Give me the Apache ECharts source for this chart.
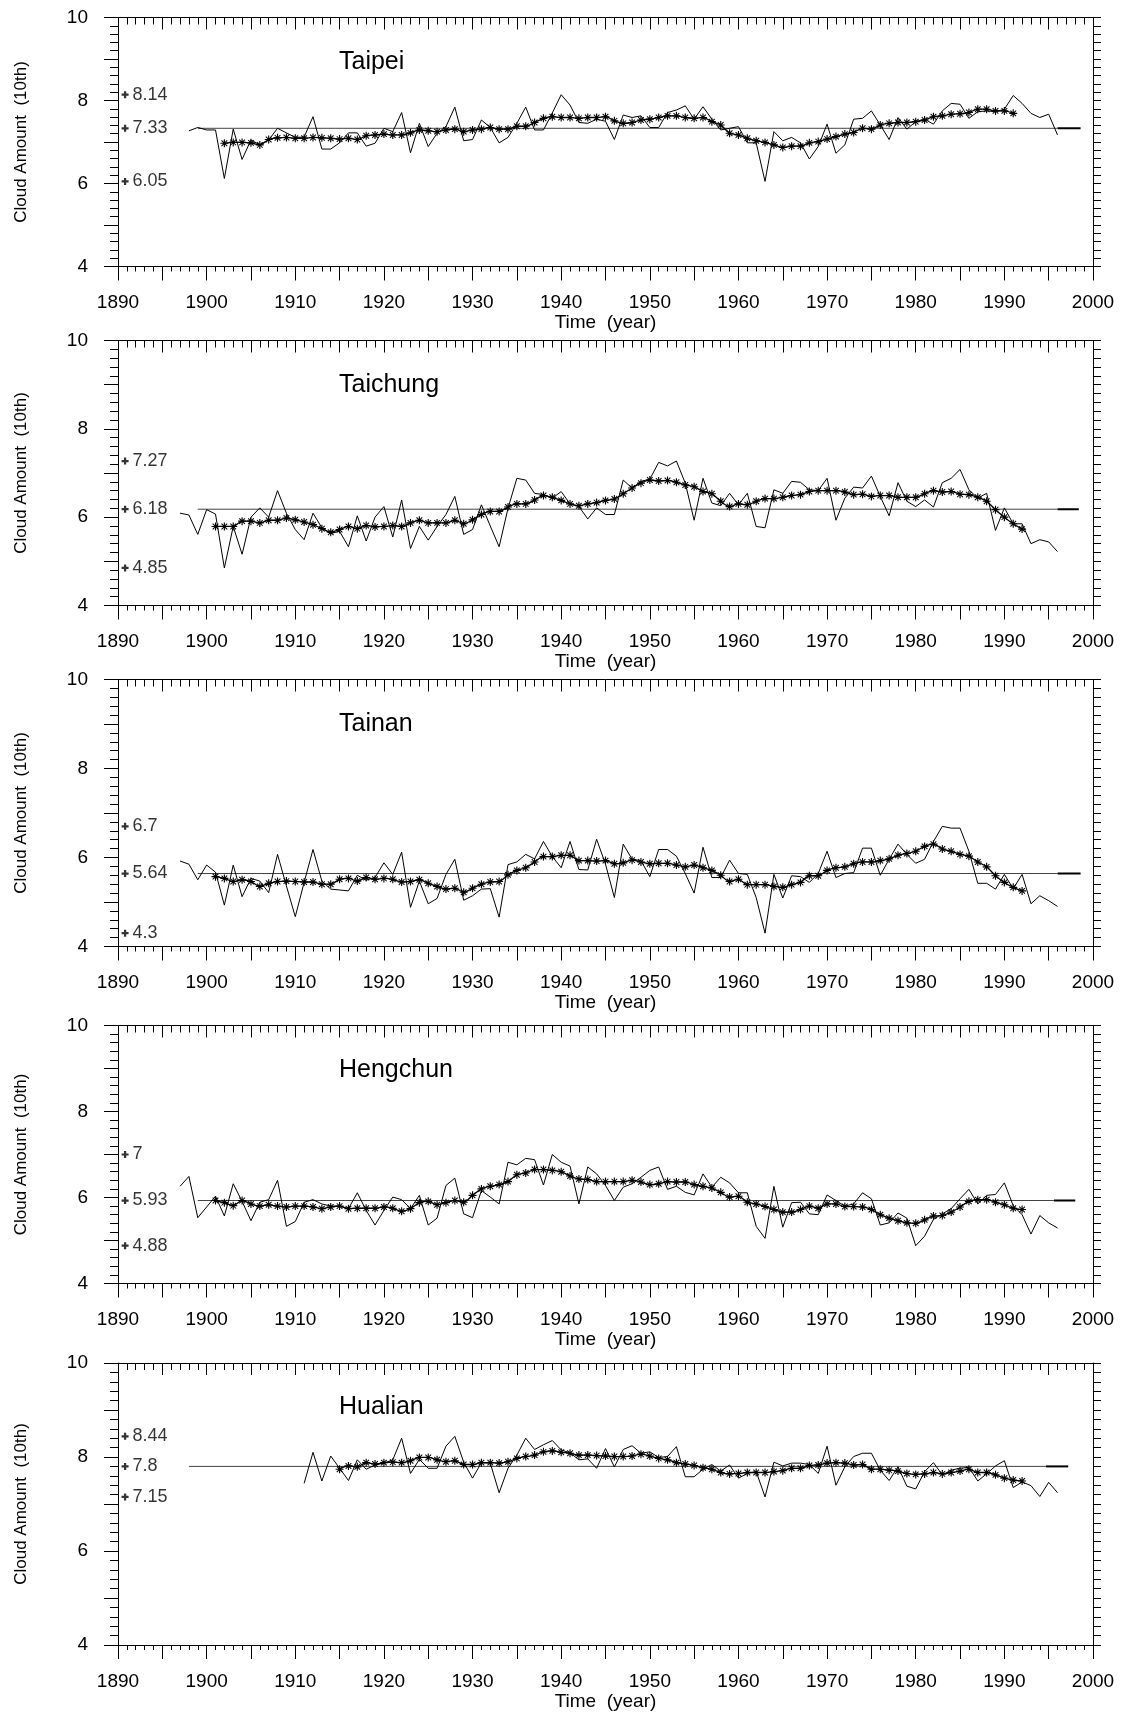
<!DOCTYPE html>
<html><head><meta charset="utf-8">
<script src="https://cdn.jsdelivr.net/npm/echarts/dist/echarts.min.js"></script>
<style>html,body{margin:0;padding:0;background:#fff}#c{width:1123px;height:1722px}</style>
</head><body><div id="c"></div>
<script>
const stations = ['Taipei', 'Taichung', 'Tainan', 'Hengchun', 'Hualian'];
const xTickLabels = [1890, 1900, 1910, 1920, 1930, 1940, 1950, 1960, 1970, 1980, 1990, 2000];
const yTickLabels = [4, 6, 8, 10];

// ---- Taipei ----
const taipeiRawStart = 1898;
const taipeiRaw = [7.27,7.35,7.29,7.29,6.12,7.31,6.58,7.05,6.93,7.05,7.33,7.22,7.11,7.12,7.61,6.83,6.83,6.98,7.22,7.22,6.90,6.97,7.33,7.25,7.71,6.74,7.45,6.89,7.21,7.37,7.84,7.03,7.06,7.53,7.35,6.98,7.11,7.45,7.84,7.29,7.29,7.70,8.14,7.89,7.47,7.45,7.55,7.50,7.06,7.65,7.59,7.63,7.35,7.35,7.71,7.77,7.87,7.55,7.85,7.55,7.29,7.33,7.37,6.98,6.98,6.05,7.25,7.03,7.11,6.98,6.59,6.89,7.43,6.73,6.93,7.55,7.57,7.75,7.41,7.06,7.59,7.31,7.49,7.55,7.43,7.75,7.93,7.91,7.57,7.73,7.75,7.73,7.79,8.12,7.93,7.69,7.59,7.67,7.17];
const taipeiSmoothStart = 1902;
const taipeiSmooth = [6.97,6.99,6.99,6.98,6.93,7.06,7.10,7.11,7.09,7.09,7.11,7.10,7.09,7.07,7.09,7.06,7.15,7.17,7.19,7.17,7.17,7.22,7.29,7.27,7.25,7.29,7.31,7.25,7.29,7.31,7.35,7.31,7.31,7.38,7.38,7.47,7.57,7.61,7.59,7.59,7.57,7.59,7.59,7.61,7.51,7.45,7.47,7.53,7.55,7.59,7.63,7.63,7.59,7.57,7.59,7.49,7.41,7.21,7.17,7.09,7.03,6.99,6.93,6.87,6.90,6.90,6.98,7.01,7.07,7.13,7.19,7.23,7.33,7.31,7.41,7.45,7.47,7.47,7.49,7.53,7.61,7.63,7.67,7.68,7.71,7.79,7.79,7.75,7.75,7.69];
const taipeiStats = [8.14, 7.33, 6.05];

// ---- Taichung ----
const taichungRawStart = 1897;
const taichungRaw = [6.09,6.05,5.61,6.17,6.07,4.85,5.79,5.16,6.00,6.21,6.00,6.60,6.09,5.72,5.49,6.09,5.76,5.63,5.68,5.33,6.03,5.46,6.00,6.24,5.55,6.39,5.29,5.79,5.48,5.79,6.06,6.47,5.61,5.72,6.28,5.80,5.33,6.20,6.88,6.84,6.54,6.51,6.43,6.58,6.30,6.24,5.96,6.21,6.06,6.06,6.84,6.66,6.81,6.86,7.24,7.16,7.27,6.77,5.93,6.88,6.32,6.26,6.54,6.28,6.54,5.79,5.76,6.62,6.54,6.81,6.79,6.62,6.60,6.88,5.93,6.43,6.68,6.66,6.93,6.47,6.03,6.78,6.36,6.24,6.39,6.23,6.78,6.88,7.08,6.62,6.43,6.54,5.70,6.21,5.85,5.85,5.40,5.49,5.44,5.22];
const taichungSmoothStart = 1901;
const taichungSmooth = [5.79,5.79,5.79,5.91,5.91,5.87,5.93,5.93,5.98,5.94,5.89,5.83,5.74,5.66,5.72,5.79,5.74,5.81,5.78,5.79,5.81,5.79,5.87,5.93,5.87,5.87,5.87,5.93,5.85,5.94,6.06,6.13,6.13,6.23,6.30,6.30,6.39,6.49,6.45,6.38,6.30,6.26,6.30,6.33,6.38,6.41,6.53,6.66,6.77,6.84,6.82,6.83,6.79,6.73,6.69,6.58,6.53,6.36,6.24,6.30,6.28,6.36,6.42,6.42,6.45,6.49,6.51,6.58,6.60,6.60,6.60,6.57,6.51,6.52,6.47,6.49,6.49,6.45,6.45,6.45,6.53,6.60,6.57,6.58,6.52,6.51,6.45,6.36,6.17,6.00,5.85,5.73];
const taichungStats = [7.27, 6.18, 4.85];

// ---- Tainan ----
const tainanRawStart = 1897;
const tainanRaw = [5.92,5.85,5.50,5.83,5.67,4.93,5.83,5.12,5.53,5.47,5.21,6.07,5.36,4.67,5.44,6.18,5.47,5.29,5.27,5.25,5.60,5.49,5.55,5.88,5.62,6.12,4.88,5.47,4.96,5.08,5.62,5.96,5.04,5.14,5.29,5.30,4.66,5.84,5.90,6.07,5.97,6.36,6.02,5.77,6.36,5.73,5.72,6.41,5.85,5.10,6.30,5.96,5.93,5.57,6.18,6.18,6.03,5.64,5.20,6.23,5.55,5.55,5.94,5.64,5.62,5.10,4.30,5.62,5.09,5.59,5.57,5.44,5.64,6.14,5.55,5.64,5.66,6.21,6.21,5.60,5.96,6.30,6.07,5.87,5.96,6.36,6.70,6.66,6.66,6.14,5.42,5.42,5.29,5.62,5.30,5.62,4.96,5.14,5.03,4.90];
const tainanSmoothStart = 1901;
const tainanSmooth = [5.57,5.53,5.46,5.50,5.46,5.35,5.42,5.46,5.47,5.46,5.45,5.45,5.40,5.40,5.51,5.53,5.47,5.55,5.51,5.53,5.51,5.45,5.46,5.50,5.42,5.35,5.29,5.31,5.22,5.31,5.40,5.45,5.46,5.61,5.71,5.77,5.90,6.02,6.02,6.05,6.05,5.93,5.93,5.92,5.93,5.86,5.88,5.94,5.90,5.86,5.87,5.87,5.83,5.79,5.83,5.77,5.71,5.60,5.46,5.51,5.39,5.39,5.39,5.35,5.33,5.39,5.44,5.59,5.59,5.71,5.77,5.79,5.86,5.90,5.90,5.93,5.97,6.05,6.09,6.14,6.25,6.30,6.19,6.14,6.07,6.03,5.90,5.79,5.59,5.44,5.33,5.25];
const tainanStats = [6.7, 5.64, 4.3];

// ---- Hengchun ----
const hengchunRawStart = 1897;
const hengchunRaw = [6.26,6.49,5.53,5.78,6.03,5.57,6.32,5.91,5.46,5.89,5.95,6.40,5.33,5.44,5.89,5.95,5.85,5.80,5.80,5.74,6.11,5.70,5.36,5.70,6.01,5.95,5.74,6.05,5.36,5.52,6.28,6.45,5.62,5.53,6.16,6.01,5.85,6.82,6.76,6.91,6.88,6.29,7.00,6.82,6.73,5.85,6.71,6.55,6.28,5.93,6.24,6.32,6.47,6.63,6.71,6.19,6.26,6.12,6.06,6.55,6.24,6.47,6.34,6.11,6.11,5.33,5.05,6.26,5.31,5.88,5.89,5.62,5.60,6.06,5.93,5.80,5.85,6.11,5.97,5.36,5.41,5.64,5.52,4.88,5.10,5.49,5.62,5.74,5.97,6.19,5.85,6.05,6.07,6.34,5.81,5.60,5.15,5.58,5.41,5.29];
const hengchunSmoothStart = 1901;
const hengchunSmooth = [5.93,5.88,5.81,5.93,5.85,5.80,5.83,5.80,5.78,5.80,5.80,5.78,5.74,5.78,5.80,5.74,5.75,5.75,5.75,5.78,5.75,5.68,5.74,5.88,5.91,5.83,5.88,5.93,5.89,6.05,6.20,6.26,6.30,6.37,6.53,6.57,6.65,6.65,6.63,6.60,6.50,6.43,6.42,6.37,6.37,6.37,6.37,6.40,6.36,6.30,6.32,6.37,6.36,6.36,6.30,6.26,6.22,6.12,6.01,6.03,5.89,5.85,5.79,5.72,5.66,5.66,5.72,5.80,5.75,5.85,5.85,5.79,5.79,5.78,5.72,5.60,5.52,5.46,5.41,5.40,5.48,5.57,5.58,5.66,5.78,5.91,5.95,5.95,5.89,5.83,5.75,5.72];
const hengchunStats = [7, 5.93, 4.88];

// ---- Hualian ----
const hualianRawStart = 1911;
const hualianRaw = [7.44,8.10,7.49,8.02,7.76,7.50,7.94,7.74,7.83,7.87,7.94,8.40,7.65,7.95,7.76,7.76,8.23,8.44,7.89,7.55,7.88,7.87,7.24,7.76,8.04,8.40,8.16,8.26,8.35,8.15,8.09,7.94,7.96,7.76,8.18,7.79,8.16,8.24,8.08,8.11,7.99,8.01,8.22,7.58,7.58,7.74,7.84,7.70,7.83,7.55,7.65,7.69,7.15,7.89,7.81,7.87,7.87,7.84,7.65,8.23,7.40,7.79,8.01,8.08,8.08,7.72,7.50,7.79,7.38,7.32,7.69,7.88,7.62,7.72,7.76,7.78,7.49,7.64,7.81,7.92,7.35,7.47,7.39,7.16,7.46,7.24];
const hualianSmoothStart = 1915;
const hualianSmooth = [7.74,7.81,7.79,7.88,7.85,7.88,7.89,7.88,7.92,7.99,7.99,7.94,7.90,7.92,7.84,7.84,7.88,7.88,7.87,7.90,7.97,8.01,8.04,8.11,8.13,8.10,8.08,8.04,8.04,8.03,8.02,8.01,8.01,8.02,8.06,8.02,7.97,7.94,7.88,7.85,7.82,7.77,7.74,7.67,7.64,7.65,7.67,7.67,7.67,7.69,7.71,7.76,7.76,7.82,7.83,7.87,7.88,7.87,7.83,7.84,7.74,7.74,7.72,7.70,7.65,7.63,7.64,7.67,7.64,7.67,7.70,7.74,7.67,7.67,7.62,7.55,7.51,7.49];
const hualianStats = [8.44, 7.8, 7.15];

const panels = [
  {name: stations[0], raw: taipeiRaw, rawStart: taipeiRawStart, sm: taipeiSmooth, smStart: taipeiSmoothStart, stats: taipeiStats},
  {name: stations[1], raw: taichungRaw, rawStart: taichungRawStart, sm: taichungSmooth, smStart: taichungSmoothStart, stats: taichungStats},
  {name: stations[2], raw: tainanRaw, rawStart: tainanRawStart, sm: tainanSmooth, smStart: tainanSmoothStart, stats: tainanStats},
  {name: stations[3], raw: hengchunRaw, rawStart: hengchunRawStart, sm: hengchunSmooth, smStart: hengchunSmoothStart, stats: hengchunStats},
  {name: stations[4], raw: hualianRaw, rawStart: hualianRawStart, sm: hualianSmooth, smStart: hualianSmoothStart, stats: hualianStats}
];

// layout (pixels) and mean-line extents (years)
const layout = [
  {top: 17.5, h: 249, m0: 1899, m1: 1996, m2: 1998.6},
  {top: 340.5, h: 265, m0: 1899, m1: 1996, m2: 1998.4},
  {top: 679.5, h: 267, m0: 1899, m1: 1996, m2: 1998.6},
  {top: 1025.5, h: 258, m0: 1899, m1: 1995.6, m2: 1998},
  {top: 1363, h: 282, m0: 1898, m1: 1994.7, m2: 1997.2}
];

const FONT = '"Liberation Sans", Arial, Helvetica, sans-serif';
const BLACK = '#000';
const ASTER = 'path://M4.3,0 L5.7,0 L5.7,10 L4.3,10 Z M0,4.3 L10,4.3 L10,5.7 L0,5.7 Z M1,1.9 L1.9,1 L9,8.1 L8.1,9 Z M8.1,1 L9,1.9 L1.9,9 L1,8.1 Z';
const PLUS = 'path://M3.4,0 L6.6,0 L6.6,3.4 L10,3.4 L10,6.6 L6.6,6.6 L6.6,10 L3.4,10 L3.4,6.6 L0,6.6 L0,3.4 L3.4,3.4 Z';

const pairs = (start, arr) => arr.map((v, i) => [start + i, v]);

const grid = [], xAxis = [], yAxis = [], series = [], title = [];
panels.forEach((p, i) => {
  const L = layout[i];
  grid.push({left: 118, width: 975, top: L.top, height: L.h});
  title.push({text: p.name, left: 334, top: L.top + 27,
    textStyle: {fontFamily: FONT, fontSize: 25, fontWeight: 'normal', color: BLACK}});
  const lineSt = {color: BLACK, width: 1};
  xAxis.push({type: 'value', gridIndex: i, min: 1890, max: 2000, interval: 5, position: 'bottom',
    axisLine: {onZero: false, lineStyle: lineSt},
    axisTick: {length: 14, lineStyle: lineSt},
    minorTick: {show: true, splitNumber: 5, length: 5, lineStyle: lineSt},
    axisLabel: {margin: 27, fontSize: 19, color: BLACK, fontFamily: FONT,
      formatter: v => xTickLabels.includes(v) ? String(v) : ''},
    splitLine: {show: false}, minorSplitLine: {show: false},
    name: 'Time  (year)', nameLocation: 'middle', nameGap: 44,
    nameTextStyle: {fontSize: 19, color: BLACK, fontFamily: FONT}});
  xAxis.push({type: 'value', gridIndex: i, min: 1890, max: 2000, interval: 5, position: 'top',
    axisLine: {onZero: false, lineStyle: lineSt},
    axisTick: {inside: true, length: 12, lineStyle: lineSt},
    minorTick: {show: true, splitNumber: 5, length: 7, lineStyle: lineSt},
    axisLabel: {show: false}, splitLine: {show: false}, minorSplitLine: {show: false}});
  yAxis.push({type: 'value', gridIndex: i, min: 4, max: 10, interval: 1, position: 'left',
    axisLine: {onZero: false, lineStyle: lineSt},
    axisTick: {length: 14, lineStyle: lineSt},
    minorTick: {show: true, splitNumber: 5, length: 8, lineStyle: lineSt},
    axisLabel: {margin: 30, fontSize: 19, color: BLACK, fontFamily: FONT,
      formatter: v => yTickLabels.includes(v) ? String(v) : ''},
    splitLine: {show: false}, minorSplitLine: {show: false},
    name: 'Cloud Amount  (10th)', nameLocation: 'middle', nameGap: 88,
    nameTextStyle: {fontSize: 17, color: BLACK, fontFamily: FONT}});
  yAxis.push({type: 'value', gridIndex: i, min: 4, max: 10, interval: 1, position: 'right',
    axisLine: {onZero: false, lineStyle: lineSt},
    axisTick: {length: 8, lineStyle: lineSt},
    minorTick: {show: true, splitNumber: 5, length: 8, lineStyle: lineSt},
    axisLabel: {show: false}, splitLine: {show: false}, minorSplitLine: {show: false}});

  const xi = 2 * i, yi = 2 * i;
  const mean = p.stats[1];
  series.push({type: 'line', xAxisIndex: xi, yAxisIndex: yi, data: [[L.m0, mean], [L.m1, mean]],
    symbol: 'none', lineStyle: {color: '#444', width: 1}, silent: true, z: 1});
  series.push({type: 'line', xAxisIndex: xi, yAxisIndex: yi, data: [[L.m1, mean], [L.m2, mean]],
    symbol: 'none', lineStyle: {color: BLACK, width: 2}, silent: true, z: 1});
  series.push({type: 'line', xAxisIndex: xi, yAxisIndex: yi, data: pairs(p.rawStart, p.raw),
    symbol: 'none', lineStyle: {color: BLACK, width: 1}, z: 2});
  series.push({type: 'line', xAxisIndex: xi, yAxisIndex: yi, data: pairs(p.smStart, p.sm),
    smooth: 0.3, symbol: ASTER, symbolSize: 8, showAllSymbol: true,
    itemStyle: {color: BLACK}, lineStyle: {color: BLACK, width: 1.3}, z: 3});
  series.push({type: 'scatter', xAxisIndex: xi, yAxisIndex: yi,
    data: p.stats.map(v => [1890.8, v]), symbol: PLUS, symbolSize: 7,
    itemStyle: {color: BLACK},
    label: {show: true, position: 'right', distance: 4, fontSize: 18, color: '#000', fontFamily: FONT,
      textBorderWidth: 0, formatter: d => String(d.value[1])}, z: 4});
});

const chart = echarts.init(document.getElementById('c'), null, {renderer: 'canvas'});
chart.setOption({animation: false, backgroundColor: '#fff', title, grid, xAxis, yAxis, series});
</script>
</body></html>
